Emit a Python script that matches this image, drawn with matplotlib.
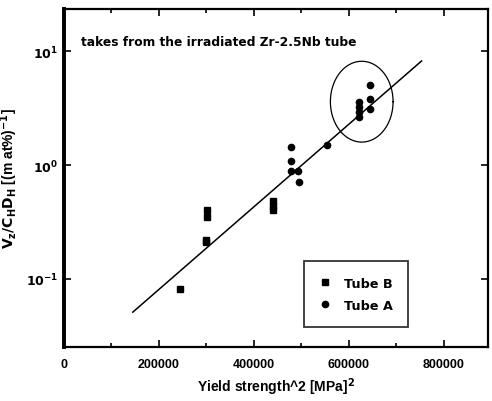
import numpy as np
import matplotlib
matplotlib.use("Agg")
import matplotlib.pyplot as plt

# Tube B (squares)
tube_b_x = [245000, 301000, 301000, 300000, 300000, 440000, 440000, 440000]
tube_b_y = [0.082, 0.40, 0.35, 0.22, 0.21, 0.48, 0.44, 0.40]

# Tube A (circles)
tube_a_x = [479000, 479000, 479000, 492000, 494000, 553000,
            621000, 621000, 621000, 621000, 644000, 644000, 644000]
tube_a_y = [1.44, 1.09, 0.89, 0.89, 0.71, 1.50,
            3.57, 3.23, 2.92, 2.64, 5.0, 3.79, 3.10]

# fit line end points
fit_x = [145000, 753000]
fit_y = [0.051, 8.2]

# circled group: centre x, centre y, half width (x), half height (decades)
ring_cx, ring_cy, ring_wx, ring_hd = 627000, 3.6, 66000, 0.355

xticks = [0, 200000, 400000, 600000, 800000]

plt.rcParams['font.family'] = ['Liberation Sans', 'DejaVu Sans']

fig = plt.figure(figsize=(4.92, 4.02), dpi=100)
ax = fig.add_axes([0.130, 0.134, 0.862, 0.841])

ax.set_yscale('log')
ax.set_xlim(0, 893000)
ax.set_ylim(10**-1.6, 10**1.37)

ax.plot(fit_x, fit_y, color='black', lw=1.1)
ax.plot(tube_b_x, tube_b_y, 's', color='black', ms=5, ls='none', label='Tube B')
ax.plot(tube_a_x, tube_a_y, 'o', color='black', ms=4.5, ls='none', label='Tube A')

t = np.linspace(0, 2 * np.pi, 200)
ex = ring_cx + ring_wx * np.cos(t)
ey = 10 ** (np.log10(ring_cy) + ring_hd * np.sin(t))
ax.plot(ex, ey, color='black', lw=0.9)

ax.text(0.04, 0.905, 'takes from the irradiated Zr-2.5Nb tube', transform=ax.transAxes,
        fontsize=8.8, fontweight='bold', va='center', ha='left', family='DejaVu Sans')

ax.set_xticks(xticks)
ax.set_xticklabels([str(v) for v in xticks], fontweight='bold', fontsize=9)
ax.set_xticks([100000, 300000, 500000, 700000], minor=True)
ax.set_yticks([0.1, 1, 10])
ax.set_yticklabels([r'$\mathbf{10^{-1}}$', r'$\mathbf{10^{0}}$', r'$\mathbf{10^{1}}$'], fontsize=9)
ax.yaxis.set_minor_locator(matplotlib.ticker.NullLocator())
ax.tick_params(which='both', direction='in', top=True, right=True, width=1.2)
ax.tick_params(which='major', length=5)
ax.tick_params(which='minor', length=3)
ax.tick_params(axis='x', pad=8)
ax.tick_params(axis='y', pad=4)

for s in ax.spines.values():
    s.set_linewidth(1.6)
ax.spines['left'].set_linewidth(2.8)

ax.set_xlabel(r'Yield strength^2 [MPa]$^\mathbf{2}$', fontsize=10, fontweight='bold', labelpad=4)
ax.set_ylabel(r'$\mathbf{V_z/C_H D_H}$ [(m at%)$^\mathbf{-1}$]', fontsize=10, fontweight='bold')

leg = ax.legend(loc='center', bbox_to_anchor=(0.689, 0.157), frameon=True, fancybox=False,
                edgecolor='black', prop={'weight': 'bold', 'size': 9.2, 'family': 'DejaVu Sans'},
                handlelength=0.9, handletextpad=1.0, borderpad=1.2, labelspacing=0.7,
                borderaxespad=0)
leg.get_frame().set_linewidth(1.3)

fig.savefig('out.png', dpi=100)
